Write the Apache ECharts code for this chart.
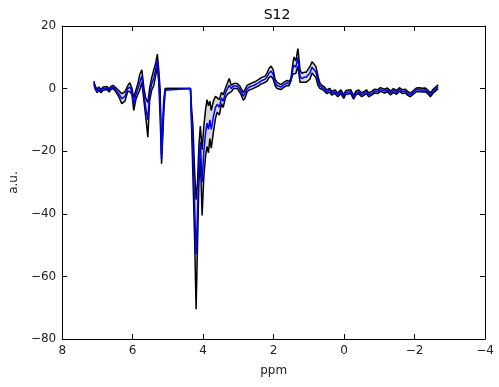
<!DOCTYPE html>
<html>
<head>
<meta charset="utf-8">
<script src="https://cdn.jsdelivr.net/npm/echarts@6/dist/echarts.min.js"></script>
<style>
  html, body { margin: 0; padding: 0; background: #fff; }
  #chart { width: 499px; height: 387px; }
</style>
</head>
<body>
<div id="chart"></div>
<script>
// chemical shift (ppm), mean intensity and standard deviation
const ppm = [
  7.10, 7.07, 7.01, 6.96, 6.90, 6.84, 6.79, 6.73, 6.67, 6.62, 6.56, 6.50, 6.45, 6.39, 6.31, 6.22,
  6.14, 6.08, 6.02, 5.97, 5.91, 5.85, 5.80, 5.74, 5.68, 5.63, 5.57, 5.52, 5.46, 5.40, 5.35, 5.30,
  5.26, 5.22, 5.18, 5.12, 5.08, 5.04, 4.36,
  4.33, 4.29, 4.24, 4.20, 4.16, 4.12, 4.08, 4.03, 3.98, 3.93, 3.89, 3.85, 3.81, 3.77, 3.71, 3.65,
  3.60, 3.54, 3.48, 3.43, 3.37, 3.31, 3.26, 3.20, 3.14, 3.09, 3.03, 2.97, 2.92, 2.86, 2.81, 2.75,
  2.69, 2.64, 2.58, 2.52, 2.47, 2.41, 2.35, 2.30, 2.24, 2.18, 2.13, 2.07, 2.01, 1.96, 1.90, 1.85,
  1.79, 1.73, 1.68, 1.62, 1.56, 1.51, 1.45, 1.42, 1.37, 1.31, 1.25, 1.20, 1.14, 1.08, 1.03, 0.97,
  0.91, 0.86, 0.80, 0.74, 0.69, 0.63, 0.57,
  0.49, 0.41, 0.35, 0.26, 0.18, 0.09, 0.01, -0.05, -0.10, -0.19, -0.27, -0.33, -0.41, -0.50, -0.55,
  -0.64, -0.70, -0.78, -0.87, -0.95, -1.03, -1.15, -1.23, -1.32, -1.40, -1.49, -1.57, -1.66, -1.74,
  -1.80, -1.88, -1.97, -2.05, -2.14, -2.22, -2.31, -2.39, -2.45, -2.53, -2.59, -2.67
];
const mean = [
  1.9, 0.5, -0.8, 0, -0.8, 0, -0.4, 0.2, -0.6, 0.2, 0.5, -0.1, -0.8, -1.7, -3.2, -2.5,
  0, 0.5, -1, -5, -2, 0, 2, 4, -2, -6, -10, -2, 1.5, 3.5, 6, 9,
  4, -5, -22.5, -6, -0.5, 0, 0,
  -9, -20, -38, -53, -40, -24, -17, -30, -20, -14, -11, -13, -10, -13, -9, -6,
  -5, -6, -3, -4, -1.5, 0, 1, 0, 0.8, 0.3, 0.8, 0, -1, -2.5, -2, 0,
  0.5, 0.3, 1, 1.3, 1, 2, 2.5, 2, 3, 3.8, 5, 5.6, 4.5, 2, 1, 1,
  0.5, 1, 1.3, 1.8, 1.6, 2.3, 6.5, 7.5, 6.8, 10, 4, 3.2, 3.6, 3.6, 3.8, 5,
  6.8, 6.5, 5.3, 2.5, 1, 0.4, 0,
  -1, -0.5, -1.5, -1, -2, -1, -2.5, -1.2, -1.8, -1, -2.8, -1.5, -1, -2, -1.5,
  -1, -2, -1.5, -0.8, -1, -0.3, -0.8, -0.4, -1.4, -0.6, -1.2, -0.3, -1, -0.8,
  -1.5, -2, -1.2, -0.4, -0.3, -0.5, -0.4, -1.2, -2, -0.8, -0.2, 0.6
];
const sd = [
  0.5, 0.5, 0.5, 0.5, 0.5, 0.5, 0.5, 0.5, 0.5, 0.5, 0.5, 0.6, 0.7, 1.0, 1.6, 1.5,
  0.9, 1.4, 1, 2, 1.5, 1.7, 2.5, 2, 2, 3, 5.5, 2, 2, 2.5, 2, 2,
  2, 4.5, 1.5, 2, 0.5, 0, 0,
  3, 8, 11, 17.5, 10, 6, 5, 10.5, 8, 7.5, 7.5, 7.5, 6, 6, 5, 3.5,
  2.5, 2.5, 1.8, 2, 1.5, 1.8, 2.2, 1, 0.8, 0.8, 0.8, 1, 1, 1.2, 1, 1,
  0.9, 0.8, 1, 0.9, 1, 1, 1, 1, 1, 1.3, 1.5, 1.6, 1.5, 1, 1, 0.8,
  0.8, 0.8, 0.8, 0.8, 0.7, 0.8, 1.8, 2.6, 2, 2.8, 2, 1.7, 1.6, 1.6, 1.6, 2,
  1.8, 1.8, 1.8, 1.5, 0.9, 0.6, 0.7,
  0.6, 0.6, 0.6, 0.6, 0.6, 0.6, 0.6, 0.6, 0.6, 0.6, 0.6, 0.6, 0.6, 0.6, 0.6,
  0.6, 0.6, 0.6, 0.6, 0.6, 0.6, 0.6, 0.6, 0.6, 0.6, 0.6, 0.6, 0.6, 0.6,
  0.6, 0.6, 0.6, 0.6, 0.6, 0.6, 0.6, 0.6, 0.6, 0.6, 0.6, 0.6
];
const xTicks = { min: -4, max: 8, interval: 2 };
const yTicks = { min: -80, max: 20, interval: 20 };

const minus = (v) => String(v).replace("-", "\u2212");
const font = "'DejaVu Sans', sans-serif";

const lower = ppm.map((p, i) => [p, mean[i] - sd[i]]);
const upper = ppm.map((p, i) => [p, mean[i] + sd[i]]);
const avg = ppm.map((p, i) => [p, mean[i]]);

const frameAxis = (extra) => ({
  type: "value",
  axisLine: { show: true, onZero: false, lineStyle: { color: "#000", width: 1 } },
  axisTick: { show: true, inside: true, length: 5, lineStyle: { color: "#000" } },
  splitLine: { show: false },
  ...extra,
});

const chart = echarts.init(document.getElementById("chart"), null, { renderer: "canvas" });
chart.setOption({
  animation: false,
  backgroundColor: "#fff",
  textStyle: { fontFamily: font },
  title: {
    text: "S12",
    left: 272,
    textAlign: "center",
    top: 3,
    textStyle: { fontSize: 14, fontWeight: "normal", color: "#000", fontFamily: font },
  },
  grid: { left: 60, right: 14, top: 26, bottom: 48 },
  xAxis: [
    frameAxis({
      ...xTicks,
      inverse: true,
      position: "bottom",
      name: "ppm",
      nameLocation: "middle",
      nameGap: 26,
      nameTextStyle: { fontSize: 12, color: "#222", fontFamily: font },
      axisLabel: { fontSize: 12, color: "#222", margin: 6, formatter: minus, fontFamily: font },
    }),
    frameAxis({ ...xTicks, inverse: true, position: "top", axisLabel: { show: false } }),
  ],
  yAxis: [
    frameAxis({
      ...yTicks,
      position: "left",
      name: "a.u.",
      nameLocation: "middle",
      nameGap: 34,
      nameTextStyle: { fontSize: 12, color: "#222", fontFamily: font },
      axisLabel: { fontSize: 12, color: "#222", margin: 6, formatter: minus, fontFamily: font },
    }),
    frameAxis({ ...yTicks, position: "right", axisLabel: { show: false } }),
  ],
  series: [
    {
      // gray band between mean - sd and mean + sd
      name: "band",
      type: "custom",
      silent: true,
      data: [avg[0]],
      renderItem: (params, api) => {
        const pts = upper
          .map((d) => api.coord(d))
          .concat(lower.slice().reverse().map((d) => api.coord(d)));
        return { type: "polygon", shape: { points: pts }, style: { fill: "#d9d9d9" } };
      },
    },
    {
      name: "mean + sd",
      type: "line",
      data: upper,
      symbol: "none",
      lineStyle: { color: "#000", width: 1.5 },
    },
    {
      name: "mean - sd",
      type: "line",
      data: lower,
      symbol: "none",
      lineStyle: { color: "#000", width: 1.5 },
    },
    {
      name: "mean",
      type: "line",
      data: avg,
      symbol: "none",
      lineStyle: { color: "#0000ff", width: 1.5 },
    },
  ],
});
</script>
</body>
</html>
